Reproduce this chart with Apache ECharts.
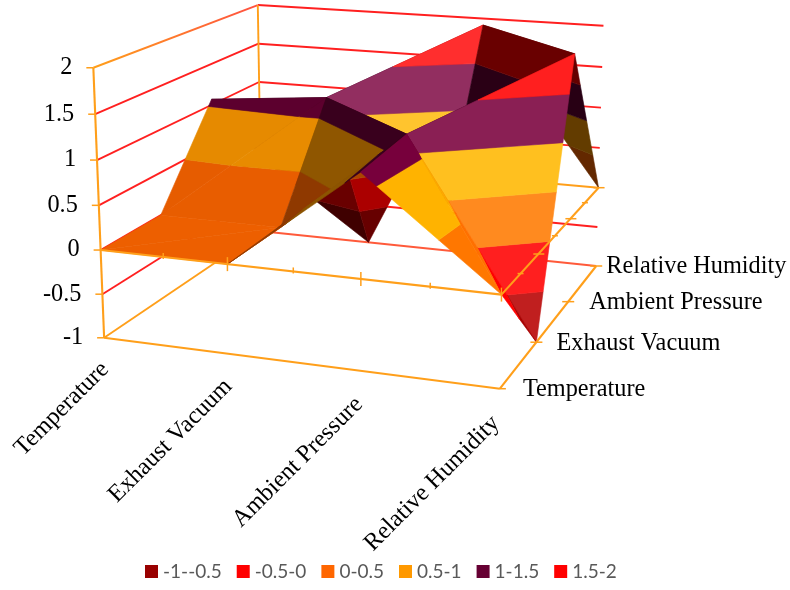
<!DOCTYPE html>
<html>
<head>
<meta charset="utf-8">
<style>html,body{margin:0;padding:0;background:#fff}#main{width:790px;height:590px}</style>
<script src="https://cdn.jsdelivr.net/npm/echarts@6/dist/echarts.min.js"></script>
</head>
<body>
<div id="main"></div>
<script>
const categories = ['Temperature', 'Exhaust Vacuum', 'Ambient Pressure', 'Relative Humidity']
const zTicks = [-1, -0.5, 0, 0.5, 1, 1.5, 2]

// one row per depth category, values run along the x categories
const temperatureRow = [0, 0, 1.13, 0]
const exhaustRow = [0, 0, 1.2, -1]
const pressureRow = [1.07, 1.2, 0, 1.92]
const humidityRow = [0, -1, 1.92, 0]
const rows = [temperatureRow, exhaustRow, pressureRow, humidityRow]

const bandNames = ['-1--0.5', '-0.5-0', '0-0.5', '0.5-1', '1-1.5', '1.5-2']
const bandLimits = [-1, -0.5, 0, 0.5, 1, 1.5, 2]
const bandColors = ['#990000', '#ff0000', '#ff6600', '#ff9900', '#660033', '#ff0000']

// grid cells split along the other diagonal, [x, depth]
const flippedCells = ['1,1', '2,0', '2,2', '0,2']

// brightness of each triangle, key is x,depth,part
const faceShade = {
  '0,0,a': 0.93, '0,0,b': 0.93,
  '1,0,a': 0.55, '1,0,b': 0.55,
  '0,1,a': 0.91, '0,1,b': 0.9,
  '1,1,a': 0.56, '1,1,b': 0.6,
  '2,0,a': 1.17, '2,0,b': 1.1,
  '2,1,a': 1.32, '2,1,b': 0.6,
  '0,2,a': 0.5, '0,2,b': 0.41,
  '1,2,a': 1.38, '1,2,b': 0.67,
  '2,2,a': 0.41, '2,2,b': 0.39
}

// where known box points land on the page, used to fit the perspective
const cameraPoints = [
  [0, 0, -1, 103, 338], [3, 0, -1, 499, 389], [0, 0, 2, 93, 68], [0, 0, 0, 100, 250],
  [3, 0, 0, 501, 293.5], [1, 0, 0, 227, 265], [2, 0, 0, 360, 279], [3, 3, 0, 598, 188],
  [3, 3, -1, 597, 267], [3, 3, 2, 604, 25], [0, 3, 2, 258, 5], [0, 3, -1, 262, 232],
  [0, 3, 1, 259, 83], [3, 1, -1, 537, 341], [3, 2, -1, 568, 302],
  [2, 0, 1.13, 362, 175], [2, 1, 1.2, 407, 135], [1, 2, 1.2, 327, 98], [0, 2, 1.07, 211, 98],
  [1, 3, -1, 368, 242], [2, 3, 1.92, 481, 25], [3, 2, 1.92, 575, 53], [1, 1, 0, 283, 225], [0, 1, 0, 162, 214]
]

function fitCamera(points) {
  const n = 11
  const a = Array.from({ length: n }, () => new Array(n + 1).fill(0))
  function addRow(r, rhs) {
    for (let i = 0; i < n; i++) {
      for (let j = 0; j < n; j++) a[i][j] += r[i] * r[j]
      a[i][n] += r[i] * rhs
    }
  }
  points.forEach(([x, d, z, u, v]) => {
    addRow([x, d, z, 1, 0, 0, 0, 0, -u * x, -u * d, -u * z], u)
    addRow([0, 0, 0, 0, x, d, z, 1, -v * x, -v * d, -v * z], v)
  })
  for (let i = 0; i < n; i++) {
    let best = i
    for (let k = i + 1; k < n; k++) if (Math.abs(a[k][i]) > Math.abs(a[best][i])) best = k
    ;[a[i], a[best]] = [a[best], a[i]]
    for (let k = 0; k < n; k++) {
      if (k === i) continue
      const f = a[k][i] / a[i][i]
      for (let j = i; j <= n; j++) a[k][j] -= f * a[i][j]
    }
  }
  return a.map((row, i) => row[n] / row[i])
}

const cam = fitCamera(cameraPoints)

function depthOf(p) {
  return cam[8] * p[0] + cam[9] * p[1] + cam[10] * p[2] + 1
}

function project(p) {
  const w = depthOf(p)
  return [
    (cam[0] * p[0] + cam[1] * p[1] + cam[2] * p[2] + cam[3]) / w,
    (cam[4] * p[0] + cam[5] * p[1] + cam[6] * p[2] + cam[7]) / w
  ]
}

function clipZ(poly, limit, keepAbove) {
  const out = []
  const inside = p => (keepAbove ? p[2] >= limit : p[2] <= limit)
  poly.forEach((p, i) => {
    const q = poly[(i + 1) % poly.length]
    if (inside(p)) out.push(p)
    if (inside(p) !== inside(q)) {
      const t = (limit - p[2]) / (q[2] - p[2])
      out.push([p[0] + (q[0] - p[0]) * t, p[1] + (q[1] - p[1]) * t, limit])
    }
  })
  return out
}

function planArea(poly) {
  let s = 0
  poly.forEach((p, i) => {
    const q = poly[(i + 1) % poly.length]
    s += p[0] * q[1] - q[0] * p[1]
  })
  return Math.abs(s) / 2
}

function shadeColor(hex, s) {
  const c = [1, 3, 5].map(i => parseInt(hex.substr(i, 2), 16))
  const mult = Math.min(s, 1.2)
  const white = Math.max(s - 1.2, 0)
  const res = c.map(v => {
    const m = Math.min(255, v * mult)
    return Math.round(m + (255 - m) * white)
  })
  return 'rgb(' + res.join(',') + ')'
}

// triangles of the surface, far ones first
const triangles = []
for (let d = 0; d < rows.length - 1; d++) {
  for (let x = 0; x < categories.length - 1; x++) {
    const p00 = [x, d, rows[d][x]]
    const p10 = [x + 1, d, rows[d][x + 1]]
    const p01 = [x, d + 1, rows[d + 1][x]]
    const p11 = [x + 1, d + 1, rows[d + 1][x + 1]]
    const flip = flippedCells.includes(x + ',' + d)
    const a = flip ? [p00, p10, p01] : [p00, p10, p11]
    const b = flip ? [p10, p11, p01] : [p00, p01, p11]
    triangles.push({ pts: a, shade: faceShade[x + ',' + d + ',a'] })
    triangles.push({ pts: b, shade: faceShade[x + ',' + d + ',b'] })
  }
}
const meanDepth = t => t.pts.reduce((s, p) => s + depthOf(p), 0) / 3
triangles.sort((t1, t2) => meanDepth(t2) - meanDepth(t1))

const bandPolys = bandNames.map(() => [])
triangles.forEach((tri, rank) => {
  bandNames.forEach((name, b) => {
    const lo = bandLimits[b]
    const hi = bandLimits[b + 1]
    const poly = clipZ(clipZ(tri.pts, lo, true), hi, false)
    if (poly.length < 3 || planArea(poly) < 1e-6) return
    if (poly.every(p => Math.abs(p[2] - hi) < 1e-9)) return
    bandPolys[b].push({ poly, z2: 10 + rank, fill: shadeColor(bandColors[b], tri.shade) })
  })
})

const ORANGE = '#ff9f1a'
const RED = '#ff2020'
const xEnd = categories.length - 1

// box lines behind the surface
const backLines = []
zTicks.forEach(z => {
  if (z !== -1) {
    backLines.push({ a: [0, 3, z], b: [3, 3, z], color: z === 0 ? ORANGE : RED })
    backLines.push({ a: [0, 0, z], b: [0, 3, z], color: z === 2 ? 'fade' : RED })
  }
})
backLines.push({ a: [0, 3, -1], b: [3, 3, -1], color: '#ff5a3a' })
backLines.push({ a: [0, 0, -1], b: [0, 3, -1], color: ORANGE })
backLines.push({ a: [0, 3, -1], b: [0, 3, 2], color: ORANGE })

// axis lines over the surface
const frontLines = [
  { a: [0, 0, -1], b: [0, 0, 2], color: ORANGE },
  { a: [0, 0, 0], b: [3, 0, 0], color: ORANGE },
  { a: [3, 0, 0], b: [3, 3, 0], color: ORANGE },
  { a: [0, 0, -1], b: [3, 0, -1], color: ORANGE },
  { a: [3, 0, -1], b: [3, 3, -1], color: ORANGE }
]

// ticks as [model point, dx0, dy0, dx1, dy1]
const ticks = []
zTicks.forEach(z => ticks.push([[0, 0, z], -7, 0, 0, 0]))
for (let i = 0; i <= xEnd; i += 0.5) {
  if (i === 0) continue
  const major = Number.isInteger(i)
  ticks.push([[i, 0, 0], 0, major ? -7 : -4, 0, major ? 7 : 2])
}
for (let i = 0.5; i <= xEnd; i += 0.5) {
  const major = Number.isInteger(i)
  ticks.push([[xEnd, i, 0], major ? -5 : -3, 0, major ? 6 : 3, 0])
}
for (let i = 0; i <= xEnd; i++) {
  ticks.push([[xEnd, i, -1], i === 0 ? 0 : -6, 0, 6, 0])
}

const labelFont = '24.3px "Liberation Serif"'
const xLabelAnchor = [[1, 28], [-1, 29], [-2, 30], [-4, 31]]
const depthLabelDx = [23, 20, 21, 10]

function lineEl(from, to, color, z2, width) {
  let stroke = color
  if (color === 'fade') {
    stroke = new echarts.graphic.LinearGradient(from[0], from[1], to[0], to[1],
      [{ offset: 0, color: ORANGE }, { offset: 1, color: '#ff5040' }], true)
  }
  return {
    type: 'line',
    z2,
    silent: true,
    shape: { x1: from[0], y1: from[1], x2: to[0], y2: to[1] },
    style: { stroke, lineWidth: width }
  }
}

function boxItem(params, api) {
  const pick = params.dataIndex
  if (pick < backLines.length) {
    const l = backLines[pick]
    return lineEl(api.coord(project(l.a)), api.coord(project(l.b)), l.color, 1, 1.9)
  }
  const l = frontLines[pick - backLines.length]
  return lineEl(api.coord(project(l.a)), api.coord(project(l.b)), l.color, 500, 2.1)
}

function tickItem(params, api) {
  const [p, dx0, dy0, dx1, dy1] = ticks[params.dataIndex]
  const c = api.coord(project(p))
  return lineEl([c[0] + dx0, c[1] + dy0], [c[0] + dx1, c[1] + dy1], ORANGE, 501, 1.5)
}

function textEl(text, pos, align, rotation) {
  return {
    type: 'text',
    z2: 600,
    silent: true,
    x: pos[0],
    y: pos[1],
    rotation,
    style: { text, font: labelFont, fill: '#000', align, verticalAlign: 'middle' }
  }
}

function labelItem(params, api) {
  const i = params.dataIndex
  if (i < zTicks.length) {
    const c = api.coord(project([0, 0, zTicks[i]]))
    return textEl(String(zTicks[i]), [c[0] - 21, c[1]], 'right', 0)
  }
  if (i < zTicks.length + categories.length) {
    const k = i - zTicks.length
    const c = api.coord(project([k, 0, -1]))
    return textEl(categories[k], [c[0] + xLabelAnchor[k][0], c[1] + xLabelAnchor[k][1]], 'right', Math.PI / 4)
  }
  const k = i - zTicks.length - categories.length
  const c = api.coord(project([xEnd, k, -1]))
  return textEl(categories[k], [c[0] + depthLabelDx[k], c[1] + 1], 'left', 0)
}

function indexData(n) {
  return Array.from({ length: n }, (_, i) => [i, 0])
}

const surfaceSeries = bandNames.map((name, b) => ({
  name,
  type: 'custom',
  coordinateSystem: 'cartesian2d',
  clip: false,
  itemStyle: { color: bandColors[b] },
  data: indexData(bandPolys[b].length),
  renderItem(params, api) {
    const item = bandPolys[b][params.dataIndex]
    return {
      type: 'polygon',
      z2: item.z2,
      silent: true,
      shape: { points: item.poly.map(p => api.coord(project(p))) },
      style: { fill: item.fill, stroke: item.fill, lineWidth: 0.6 }
    }
  }
}))

const helperSeries = (data, renderItem) => ({
  type: 'custom',
  coordinateSystem: 'cartesian2d',
  clip: false,
  data,
  renderItem
})

const chart = echarts.init(document.getElementById('main'), null, { renderer: 'canvas' })
chart.setOption({
  animation: false,
  backgroundColor: '#fff',
  grid: { left: 0, right: 0, top: 0, bottom: 0 },
  xAxis: { type: 'value', min: 0, max: 790, show: false },
  yAxis: { type: 'value', min: 0, max: 590, inverse: true, show: false },
  legend: {
    data: bandNames,
    left: 145,
    top: 562,
    padding: 0,
    icon: 'rect',
    itemWidth: 13,
    itemHeight: 13,
    itemGap: 15,
    itemStyle: { borderWidth: 0 },
    textStyle: { fontFamily: 'Lato', fontSize: 19, color: '#595959' }
  },
  series: surfaceSeries.concat([
    helperSeries(indexData(backLines.length + frontLines.length), boxItem),
    helperSeries(indexData(ticks.length), tickItem),
    helperSeries(indexData(zTicks.length + categories.length * 2), labelItem)
  ])
})
</script>
</body>
</html>
